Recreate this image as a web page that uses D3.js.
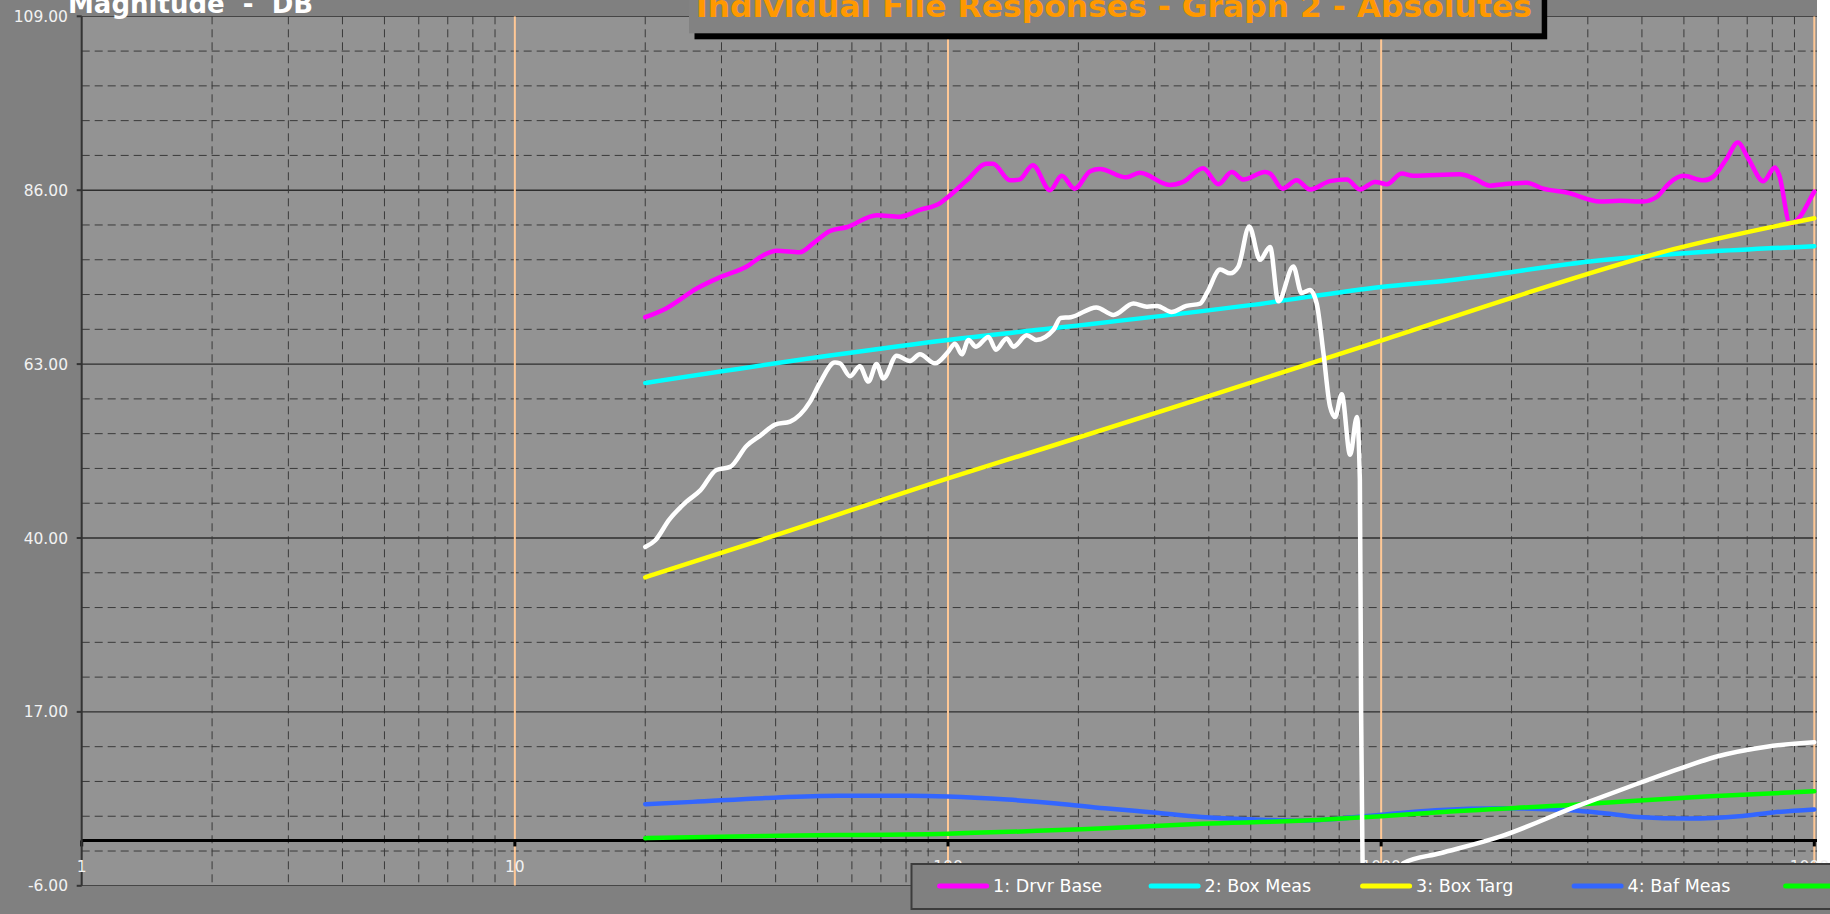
<!DOCTYPE html>
<html>
<head>
<meta charset="utf-8">
<script src="https://cdn.jsdelivr.net/npm/d3@7"></script>
<style>
  body { margin: 0; background: #808080; }
  svg { display: block; }
  text { font-family: "DejaVu Sans", Verdana, sans-serif; }
</style>
</head>
<body>
<div id="chart"></div>
<script>
// data: [frequency Hz, level dB]
const drvrBase = [[20,69.2],[22.4,70.4],[26.3,73.0],[29.8,74.5],[34.3,75.9],[37.5,77.4],[40.2,78.0],[45.5,77.8],[48.9,79.0],[53.4,80.6],[58.3,81.1],[68.5,82.7],[77.5,82.5],[86.1,83.4],[95.9,84.3],[100,85.1],[110.5,87.3],[122.8,89.5],[127,89.5],[139,87.3],[146,87.4],[157,89.3],[172,86.0],[183,87.9],[196,86.2],[213,88.5],[224,88.8],[258,87.7],[277,88.3],[325,86.7],[349,87.1],[388,88.9],[421,86.8],[452,88.4],[481,87.4],[539,88.4],[554,88.2],[592,86.2],[638,87.3],[685,86.1],[762,87.2],[833,87.4],[893,86.1],[968,87.1],[1031,86.8],[1115,88.2],[1186,87.9],[1521,88.1],[1633,87.6],[1784,86.6],[1916,86.8],[2168,87.0],[2368,86.2],[2681,85.7],[3200,84.5],[3556,84.6],[4027,84.5],[4323,85.1],[4640,87.0],[4983,87.9],[5544,87.3],[5848,87.8],[6280,90.2],[6657,92.3],[7040,90.2],[7627,87.2],[8111,89.0],[8296,88.0],[8790,81.6],[9269,82.5],[9950,85.6],[10000,85.8]];
const boxMeas = [[20,60.5],[54.4,64.2],[100,66.2],[172,67.7],[499,70.8],[1000,73.2],[1443,74.1],[3177,76.7],[10000,78.6]];
const boxTarg = [[20,34.8],[40.2,40.4],[100,47.9],[172,52.1],[417,59.1],[1012,66.2],[2060,72.0],[4730,78.2],[10000,82.3]];
const bafMeas = [[20,4.8],[25.7,5.1],[37.9,5.6],[55.8,5.9],[82.1,5.9],[100,5.8],[137,5.4],[178,4.9],[230,4.25],[298,3.7],[385,3.1],[499,2.8],[650,2.6],[1000,3.4],[1334,4.0],[1910,4.25],[2734,4.0],[3273,3.6],[3911,3.1],[5124,2.9],[6709,3.2],[8032,3.7],[10000,4.1]];
const bafTarg = [[20,0.3],[37.9,0.6],[100,0.9],[230,1.6],[385,2.2],[645,2.6],[1000,3.2],[1334,3.7],[2734,4.7],[5600,5.8],[10000,6.5]];
const fileSix = [[20,38.8],[21.1,39.7],[22.7,42.4],[24.9,44.8],[26.8,46.3],[29.2,49.0],[31.4,49.4],[34.3,52.2],[36.8,53.5],[39.9,55.0],[43.2,55.4],[48.0,58.0],[50.6,60.5],[54.8,63.2],[56.3,63.1],[59.4,61.4],[62.6,62.7],[65.5,60.7],[68.4,63.0],[70.9,61.1],[76.1,64.1],[81.7,63.4],[86.1,64.3],[93.3,63.1],[100,64.6],[103.8,65.7],[107.6,64.3],[111.5,66.2],[116,65.3],[124,66.6],[129,64.9],[136.6,66.4],[141.6,65.3],[152,66.8],[160,66.2],[175,67.5],[182,69.1],[192,69.2],[220,70.5],[241,69.5],[268,71.0],[288,70.6],[304,70.7],[328,69.9],[355,70.7],[382,71.0],[396,72.4],[425,75.5],[448,75.0],[468,75.9],[496,81.2],[525,76.8],[554,78.5],[579,71.3],[627,75.9],[655,72.4],[685,72.8],[710,71.0],[736,64.4],[762,57.4],[783,56.0],[811,59.0],[848,51.0],[879,56.0],[893,47.7],[899,16.8],[906,-3],[915,-20],[1000,-25],[1060,-10],[1125,-3.0],[1368,-1.7],[1881,0.5],[2824,4.5],[3820,7.3],[4894,9.5],[5954,11.1],[7768,12.4],[10000,13.0]];

const legendNames = ["1: Drvr Base", "2: Box Meas", "3: Box Targ", "4: Baf Meas", "5: Baf Targ"];
const legendColors = ["#ff00ff", "#00ffff", "#ffff00", "#3366ff", "#00ff00"];
const yMajors = [109, 86, 63, 40, 17, -6];
const xDecades = [1, 10, 100, 1000, 10000];

const width = 1830, height = 914;

const svg = d3.select("#chart").append("svg")
    .attr("width", width)
    .attr("height", height);

const x = d3.scaleLog().domain([1, 10000]).range([81.7, 1814.3]);
const y = d3.scaleLinear().domain([-6, 109]).range([885.8, 16.3]);

const plotLeft = 81.7, plotRight = 1817, plotTop = y(109), plotBottom = y(-6);

svg.append("rect").attr("width", width).attr("height", height).attr("fill", "#808080");
svg.append("rect").attr("x", plotRight).attr("y", 0).attr("width", width - plotRight).attr("height", 864).attr("fill", "#ffffff");
svg.append("rect")
    .attr("x", plotLeft).attr("y", plotTop)
    .attr("width", plotRight - plotLeft).attr("height", plotBottom - plotTop)
    .attr("fill", "#939393");

svg.append("clipPath").attr("id", "plot-clip")
  .append("rect")
    .attr("x", plotLeft).attr("y", plotTop)
    .attr("width", plotRight - plotLeft).attr("height", plotBottom - plotTop);

const grid = svg.append("g").attr("clip-path", "url(#plot-clip)");

// horizontal grid, 5 steps between the labelled levels
const yGrid = d3.range(0, 26).map(k => -6 + 4.6 * k);
grid.selectAll(".hgrid")
    .data(yGrid)
    .enter()
    .append("line")
    .attr("x1", plotLeft).attr("x2", plotRight)
    .attr("y1", d => y(d)).attr("y2", d => y(d))
    .attr("stroke", (d, i) => i % 5 === 0 ? "#2e2e2e" : "#3a3a3a")
    .attr("stroke-width", (d, i) => i % 5 === 0 ? 1.4 : 1)
    .attr("stroke-dasharray", (d, i) => i % 5 === 0 ? null : "8,5");

// vertical minor grid (2..9 of each decade)
const xMinor = [];
[1, 10, 100, 1000].forEach(dec => {
    for (let m = 2; m <= 9; m++) xMinor.push(dec * m);
});
grid.selectAll(".vgrid")
    .data(xMinor)
    .enter()
    .append("line")
    .attr("x1", d => x(d)).attr("x2", d => x(d))
    .attr("y1", plotTop).attr("y2", plotBottom)
    .attr("stroke", "#3a3a3a")
    .attr("stroke-width", 1)
    .attr("stroke-dasharray", "8,5");

// decade lines
grid.selectAll(".decade")
    .data(xDecades.slice(1))
    .enter()
    .append("line")
    .attr("x1", d => x(d)).attr("x2", d => x(d))
    .attr("y1", plotTop).attr("y2", plotBottom)
    .attr("stroke", "#ffc896")
    .attr("stroke-width", 2);

// zero line / x axis
svg.append("line")
    .attr("x1", plotLeft).attr("x2", plotRight)
    .attr("y1", y(0)).attr("y2", y(0))
    .attr("stroke", "#000").attr("stroke-width", 3);
svg.selectAll(".xtick")
    .data(xDecades)
    .enter()
    .append("line")
    .attr("x1", d => x(d)).attr("x2", d => x(d))
    .attr("y1", y(0)).attr("y2", y(0) + 6)
    .attr("stroke", "#000").attr("stroke-width", 3);

// y axis
svg.append("line")
    .attr("x1", plotLeft).attr("x2", plotLeft)
    .attr("y1", plotTop).attr("y2", plotBottom)
    .attr("stroke", "#333").attr("stroke-width", 2);
svg.selectAll(".ytick")
    .data(yMajors)
    .enter()
    .append("line")
    .attr("x1", plotLeft - 5).attr("x2", plotLeft)
    .attr("y1", d => y(d)).attr("y2", d => y(d))
    .attr("stroke", "#333").attr("stroke-width", 2);
svg.selectAll(".ylabel")
    .data(yMajors)
    .enter()
    .append("text")
    .attr("x", 68)
    .attr("y", d => y(d))
    .attr("dy", "0.36em")
    .attr("text-anchor", "end")
    .attr("font-size", 15.5)
    .attr("fill", "#f2f2f2")
    .text(d => d.toFixed(2));

// x labels
svg.selectAll(".xlabel")
    .data(xDecades)
    .enter()
    .append("text")
    .attr("x", d => x(d))
    .attr("y", 872)
    .attr("text-anchor", "middle")
    .attr("font-size", 15.5)
    .attr("fill", "#f2f2f2")
    .text(d => d);

// curves
const line = d3.line()
    .x(d => x(d[0]))
    .y(d => y(d[1]))
    .curve(d3.curveMonotoneX);

const series = [
    { data: drvrBase, color: legendColors[0] },
    { data: boxMeas, color: legendColors[1] },
    { data: boxTarg, color: legendColors[2] },
    { data: bafMeas, color: legendColors[3] },
    { data: bafTarg, color: legendColors[4] },
    { data: fileSix, color: "#ffffff" }
];

svg.append("g")
    .attr("clip-path", "url(#plot-clip)")
    .selectAll("path")
    .data(series)
    .enter()
    .append("path")
    .attr("d", d => line(d.data))
    .attr("fill", "none")
    .attr("stroke", d => d.color)
    .attr("stroke-width", 4.5)
    .attr("stroke-linejoin", "round")
    .attr("stroke-linecap", "round");

// axis title (sits partly off the top)
svg.append("text")
    .attr("x", 68)
    .attr("y", 12.7)
    .attr("font-size", 26)
    .attr("font-weight", "bold")
    .attr("fill", "#ffffff")
    .style("white-space", "pre")
    .text("Magnitude  -  DB");

// chart title box with shadow
svg.append("rect")
    .attr("x", 694.5).attr("y", -10)
    .attr("width", 852.7).attr("height", 49.3)
    .attr("fill", "#000");
svg.append("rect")
    .attr("x", 689).attr("y", -10)
    .attr("width", 852.7).attr("height", 43.3)
    .attr("fill", "#828282");
svg.append("text")
    .attr("x", 696)
    .attr("y", 17)
    .attr("font-size", 30)
    .attr("font-weight", "bold")
    .attr("fill", "#ff9900")
    .attr("textLength", 836)
    .attr("lengthAdjust", "spacingAndGlyphs")
    .text("Individual File Responses - Graph 2 - Absolutes");

// legend
const legend = svg.append("g");
legend.append("rect")
    .attr("x", 911.5).attr("y", 864)
    .attr("width", 940).attr("height", 45)
    .attr("fill", "#808080")
    .attr("stroke", "#3c3c3c")
    .attr("stroke-width", 2);

const items = legend.selectAll(".item")
    .data(legendNames)
    .enter()
    .append("g")
    .attr("transform", (d, i) => `translate(${937.6 + i * 211.5},886)`);
items.append("line")
    .attr("x1", 2).attr("x2", 49)
    .attr("stroke", (d, i) => legendColors[i])
    .attr("stroke-width", 5)
    .attr("stroke-linecap", "round");
items.append("text")
    .attr("x", 55.5)
    .attr("dy", "0.36em")
    .attr("font-size", 17.5)
    .attr("fill", "#ffffff")
    .text(d => d);
</script>
</body>
</html>
